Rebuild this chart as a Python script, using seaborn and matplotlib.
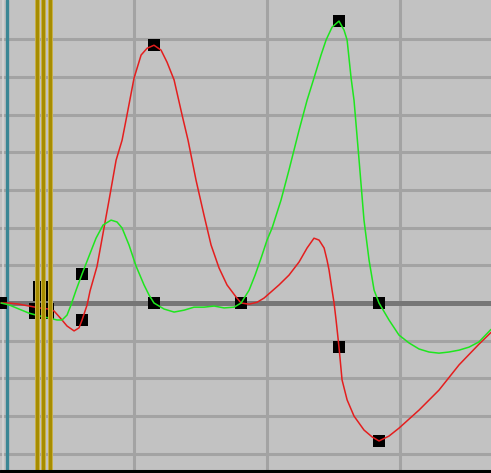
import numpy as np
import pandas as pd
import seaborn as sns
import matplotlib.pyplot as plt

# curve editor: time in frames, value in units (one grid row = 1)
red_t = [0.0, 0.60, 1.35, 2.11, 2.86, 3.61, 3.98, 4.51, 4.96, 5.49, 5.86, 6.09,
         6.47, 6.69, 7.22, 7.74, 8.12, 8.65, 9.10, 9.47, 10.0, 10.53, 10.98, 11.50,
         12.03, 12.48, 13.01, 13.61, 14.06, 14.66, 15.26, 15.79, 16.39, 16.99, 17.67,
         18.05, 18.65, 19.25, 19.77, 20.90, 21.65, 22.41, 23.01, 23.53, 23.91, 24.29,
         24.51, 24.66, 24.89, 25.04, 25.19, 25.41, 25.64, 26.02, 26.54, 27.29, 27.89,
         28.42, 29.17, 29.92, 31.43, 32.93, 34.44, 35.94, 36.84]
red_v = [0.0, 0.0, -0.03, -0.08, -0.13, -0.16, -0.21, -0.42, -0.61, -0.74, -0.66, -0.45,
         -0.05, 0.32, 0.98, 1.99, 2.73, 3.79, 4.32, 4.99, 5.97, 6.58, 6.76, 6.84,
         6.71, 6.39, 5.92, 4.99, 4.32, 3.26, 2.33, 1.54, 0.93, 0.48, 0.16,
         0.0, -0.03, 0.02, 0.13, 0.48, 0.74, 1.09, 1.46, 1.72, 1.67, 1.46,
         1.14, 0.88, 0.34, 0.0, -0.45, -1.17, -2.04, -2.57, -3.00, -3.37, -3.55,
         -3.66, -3.53, -3.32, -2.84, -2.31, -1.64, -1.09, -0.78]

green_t = [0.0, 0.60, 1.35, 2.11, 2.86, 3.61, 4.21, 4.59, 4.96, 5.26, 5.64, 6.09,
           6.62, 7.14, 7.67, 8.27, 8.72, 9.10, 9.62, 10.15, 10.75, 11.13, 11.50,
           12.26, 13.01, 13.76, 14.51, 15.26, 16.02, 16.77, 17.52, 18.05, 18.65,
           19.10, 19.55, 20.0, 20.38, 21.05, 21.65, 22.41, 23.01, 23.53, 24.06,
           24.44, 24.89, 25.41, 25.79, 26.02, 26.32, 26.54, 26.92, 27.29, 27.67,
           28.05, 28.42, 29.17, 29.92, 30.68, 31.43, 32.18, 32.93, 33.68, 34.44,
           35.19, 35.94, 36.84]
green_v = [0.0, -0.05, -0.16, -0.27, -0.34, -0.40, -0.45, -0.45, -0.32, -0.05, 0.34, 0.77,
           1.25, 1.72, 2.07, 2.20, 2.15, 1.99, 1.54, 0.98, 0.48, 0.21, 0.0,
           -0.16, -0.24, -0.19, -0.11, -0.11, -0.08, -0.13, -0.11, 0.0, 0.34,
           0.74, 1.19, 1.67, 1.99, 2.73, 3.53, 4.59, 5.38, 5.97, 6.58,
           6.98, 7.32, 7.48, 7.24, 6.98, 5.97, 5.38, 3.79, 2.20, 1.14,
           0.34, 0.0, -0.45, -0.85, -1.06, -1.22, -1.30, -1.33, -1.30, -1.25,
           -1.17, -1.03, -0.70]

# keyframes
red_key_t = [0.0, 6.09, 11.50, 18.05, 25.41, 28.42]
red_key_v = [0.0, -0.45, 6.84, 0.0, -1.17, -3.66]
green_key_t = [0.0, 6.09, 11.50, 18.05, 25.41, 28.42]
green_key_v = [0.0, 0.77, 0.0, 0.0, 7.48, 0.0]
# stacked keys of other tracks under the time slider
other_key_t = [2.86, 3.31, 2.86, 3.31, 2.56, 3.05, 3.53, 2.56, 3.05, 3.53]
other_key_v = [0.42, 0.42, 0.22, 0.22, -0.16, -0.16, -0.16, -0.28, -0.28, -0.28]

slider_t = [2.67, 3.18, 3.67]
start_t = 0.41

sns.set_theme(style="whitegrid", rc={"axes.facecolor": "#c2c2c2",
                                     "grid.color": "#a3a3a3"})

fig = plt.figure(figsize=(4.91, 4.73), dpi=100)
ax = fig.add_axes([0, 0, 1, 1])

keys = pd.DataFrame({
    "t": red_key_t + green_key_t + other_key_t,
    "v": red_key_v + green_key_v + other_key_v,
})
sns.scatterplot(data=keys, x="t", y="v", marker="s", s=72, color="black",
                edgecolor="none", ax=ax, zorder=3)

sns.lineplot(x=red_t, y=red_v, sort=False, color="#e41e1e", linewidth=1.1,
             ax=ax, zorder=4)
sns.lineplot(x=green_t, y=green_v, sort=False, color="#1ee61e", linewidth=1.1,
             ax=ax, zorder=4)

ax.set_xlim(-0.08, 36.84)
ax.set_ylim(-4.51, 8.04)
ax.set_xticks([10, 20, 30])
ax.set_yticks([v for v in range(-4, 8) if v != 0])
ax.set_xticklabels([])
ax.set_yticklabels([])
ax.set_xlabel("")
ax.set_ylabel("")
ax.grid(True, linewidth=2.2, zorder=0)
ax.axhline(0, color="#767676", linewidth=3.6, zorder=1)
ax.axvline(0.15, color="#d4d4d4", linewidth=1.2, zorder=1)
ax.axvline(start_t, color="#3a8694", linewidth=2.4, zorder=1)
ax.axhline(-4.47, color="black", linewidth=2.2, zorder=6)

for t in slider_t:
    ax.axvline(t, color="#c8b048", linewidth=3.6, zorder=5)
    ax.axvline(t, color="#a68c00", linewidth=2.2, zorder=5)

ax.tick_params(length=0)
for s in ax.spines.values():
    s.set_visible(False)

fig.savefig("out.png", dpi=100)
